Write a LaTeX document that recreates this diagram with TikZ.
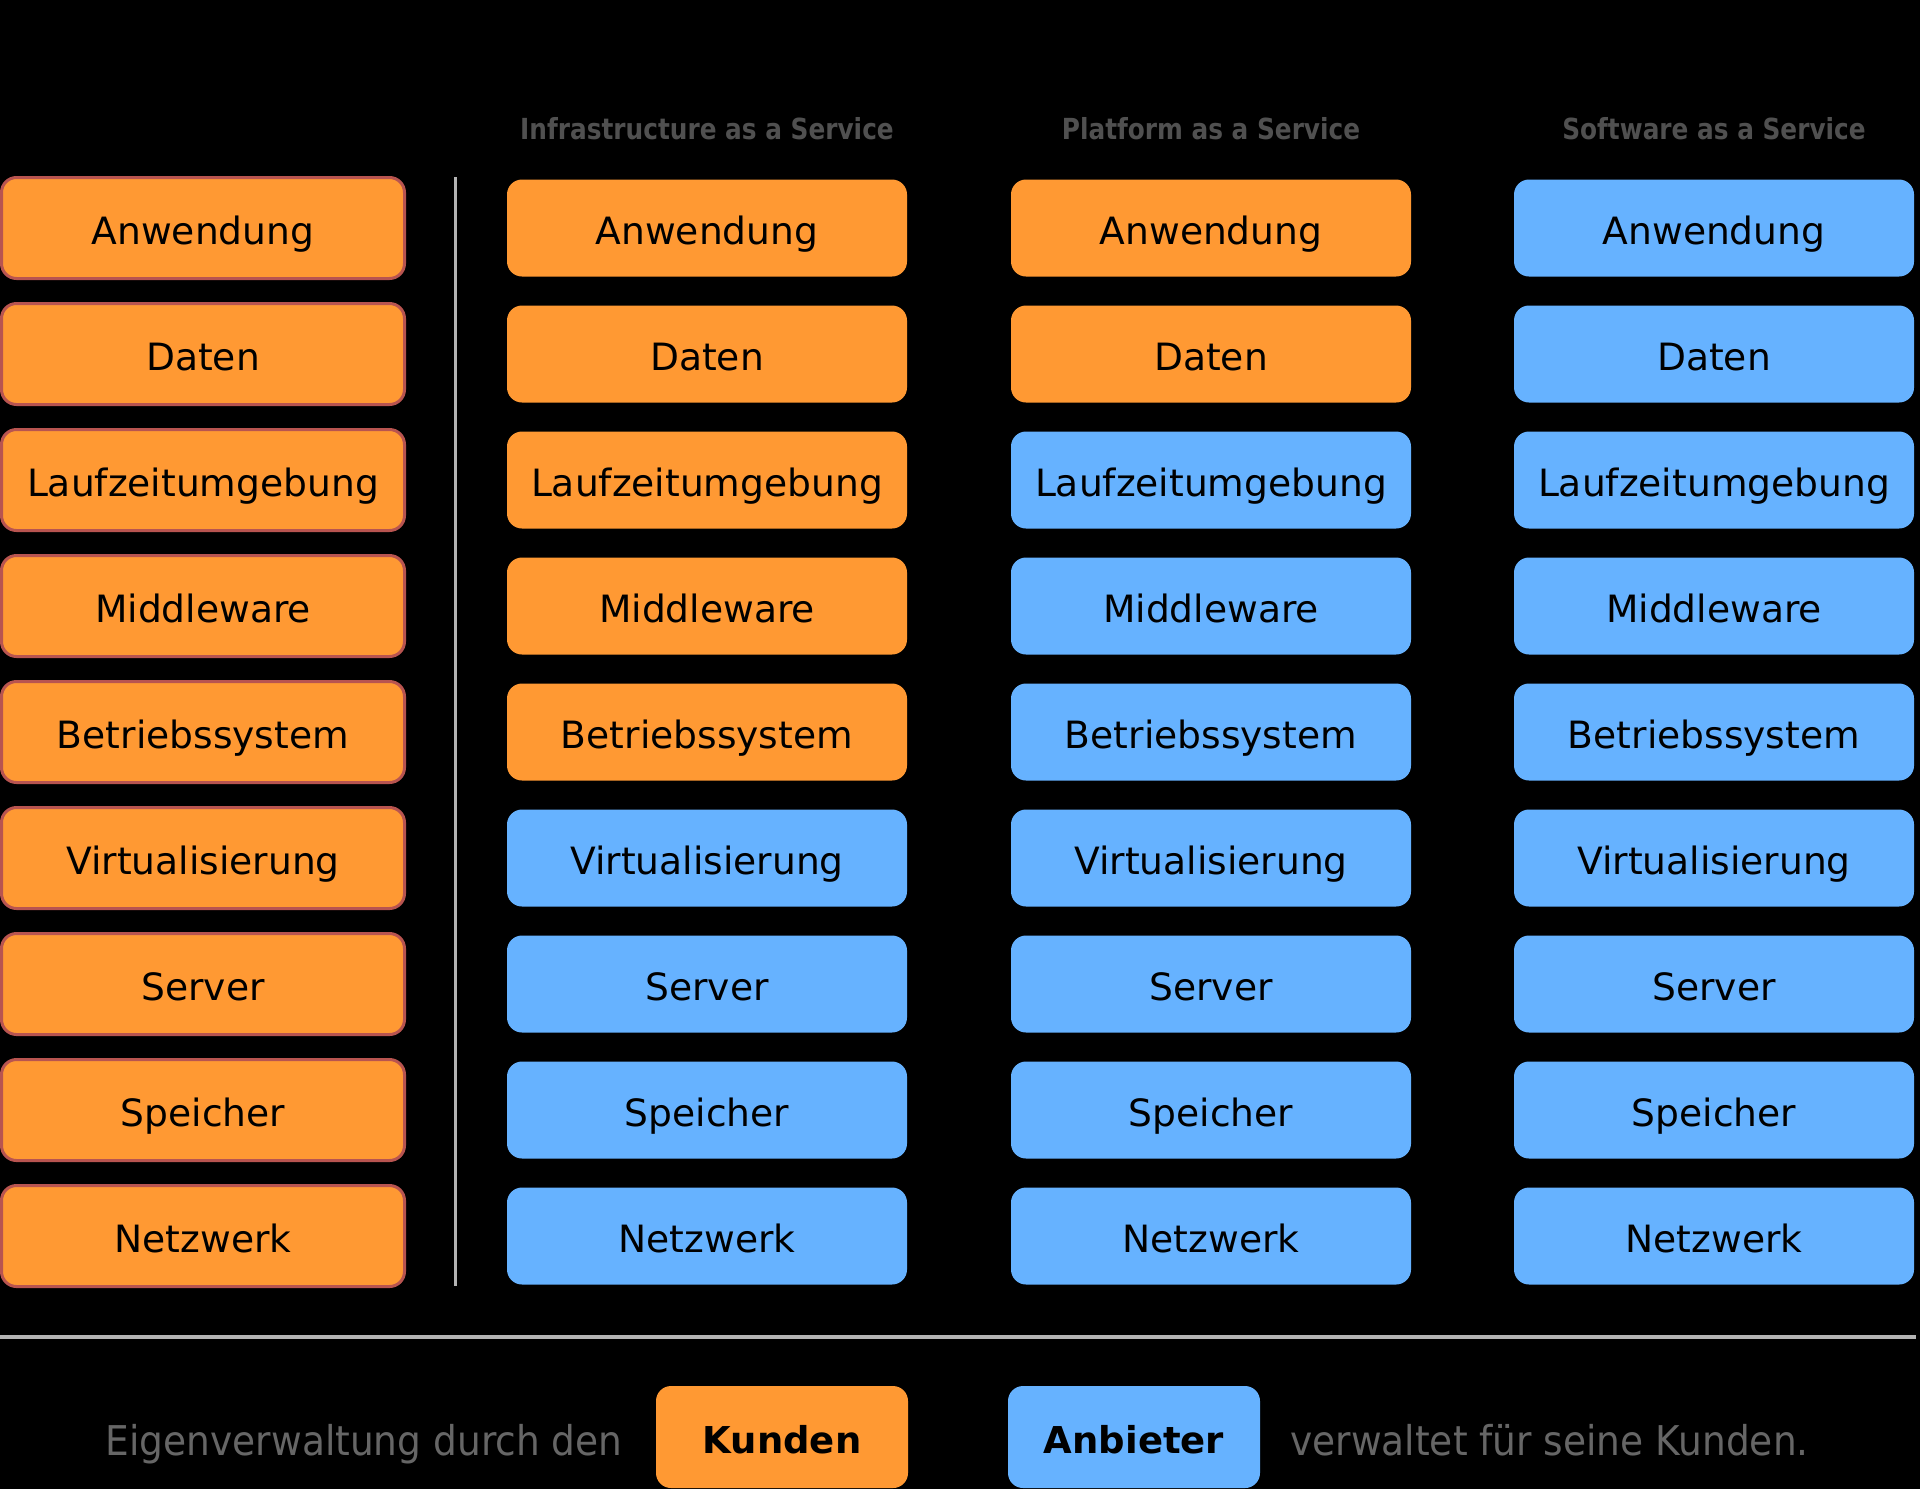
\documentclass[tikz,border=0pt]{standalone}
\usepackage{fontspec}
\setmainfont{DejaVu Sans}
\newfontfamily\headfont[FakeStretch=0.855]{DejaVu Sans}
\newfontfamily\legfont[FakeStretch=0.915]{DejaVu Sans}
\definecolor{ownfill}{HTML}{FF9933}
\definecolor{provfill}{HTML}{66B2FF}
\definecolor{ownline}{HTML}{B85450}
\definecolor{sepgray}{HTML}{B3B3B3}
\definecolor{headgray}{HTML}{505050}
\definecolor{legendgray}{HTML}{666666}
\tikzset{
  layer/.style={rounded corners=7.5pt, minimum width=200pt, minimum height=48.5pt,
    inner sep=0pt, text height=16.5pt, text depth=0pt, text=black,
    font=\fontsize{18.8}{22}\selectfont},
  own/.style={layer, fill=ownfill},
  prov/.style={layer, fill=provfill},
  ownframed/.style={own, draw=ownline, line width=1.5pt, minimum width=201.5pt, minimum height=50.5pt},
  header/.style={anchor=base, text=headgray, font=\headfont\fontsize{14.5}{17}\selectfont\bfseries},
  legendbox/.style={rounded corners=7.5pt, minimum width=126pt, minimum height=51pt,
    inner sep=0pt, text height=16pt, text depth=0pt, text=black,
    font=\fontsize{18.5}{22}\selectfont\bfseries},
  legendtext/.style={text=legendgray, font=\legfont\fontsize{20.5}{24}\selectfont, inner sep=0pt},
  sepline/.style={draw=sepgray}
}
\begin{document}
\begin{tikzpicture}[x=0.5pt,y=-0.5pt]
\fill[black] (0,0) rectangle (1920,1489);
\useasboundingbox (0,0) rectangle (1920,1489);

% headers
\node[header] (hI) at (707,139) {Infrastructure as a Service};
\node[header] (hP) at (1211,139) {Platform as a Service};
\node[header] (hS) at (1714,139) {Software as a Service};

% separator lines
\draw[sepline, line width=1.5pt] (455,177) -- (455,1286);
\draw[sepline, line width=2pt] (0,1337) -- (1916,1337);

% columns
\foreach \lab [count=\i from 0] in {Anwendung,Daten,Laufzeitumgebung,Middleware,Betriebssystem,Virtualisierung,Server,Speicher,Netzwerk}{
  \pgfmathsetmacro{\yy}{228+126*\i}
  \node[ownframed] (L\i) at (203,\yy) {\lab};
  \ifnum\i<5
    \node[own] (I\i) at (707,\yy) {\lab};
  \else
    \node[prov] (I\i) at (707,\yy) {\lab};
  \fi
  \ifnum\i<2
    \node[own] (P\i) at (1211,\yy) {\lab};
  \else
    \node[prov] (P\i) at (1211,\yy) {\lab};
  \fi
  \node[prov] (S\i) at (1714,\yy) {\lab};
}

% legend
\node[legendbox, fill=ownfill] (kunden) at (782,1437) {Kunden};
\node[legendbox, fill=provfill] (anbieter) at (1134,1437) {Anbieter};
\node[legendtext, anchor=base east] (t1) at (623,1455) {Eigenverwaltung durch den};
\node[legendtext, anchor=base west] (t2) at (1290,1455) {verwaltet für seine Kunden.};
\end{tikzpicture}
\end{document}
